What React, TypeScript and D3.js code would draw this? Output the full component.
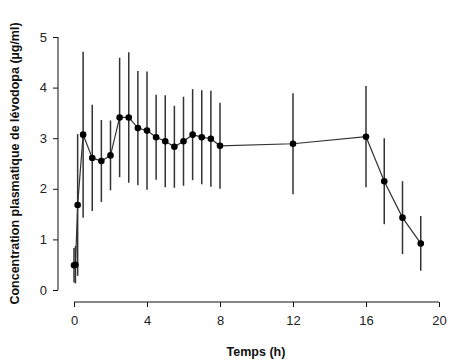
import * as d3 from "d3";
import { useEffect, useRef } from "react";

// temps de prélèvement (h)
const times = [0, 0.08, 0.2, 0.5, 1, 1.5, 2, 2.5, 3, 3.5, 4, 4.5, 5, 5.5, 6, 6.5, 7, 7.5, 8, 12, 16, 17, 18, 19];
// concentration moyenne (µg/ml)
const means = [0.49, 0.5, 1.68, 3.07, 2.61, 2.55, 2.66, 3.41, 3.41, 3.2, 3.15, 3.02, 2.94, 2.83, 2.94, 3.07, 3.02, 2.99, 2.85, 2.89, 3.03, 2.15, 1.43, 0.92];
// écart-type
const sds = [0.34, 0.37, 1.4, 1.64, 1.05, 0.81, 0.69, 1.18, 1.29, 1.13, 1.17, 0.84, 0.91, 0.81, 0.88, 0.9, 0.93, 0.95, 0.85, 1.0, 1.0, 0.85, 0.72, 0.54];

const xTicks = [0, 4, 8, 12, 16, 20];
const yTicks = [0, 1, 2, 3, 4, 5];

const W = 458;
const H = 361;

const App = () => {
  const ref = useRef<SVGSVGElement>(null);

  useEffect(() => {
    const svg = d3.select(ref.current);
    svg.selectAll("*").remove();

    const data = times.map((t, i) => ({ t, m: means[i], sd: sds[i] }));

    const x = d3.scaleLinear().domain([0, 20]).range([74, 439]);
    const y = d3.scaleLinear().domain([0, 5]).range([290, 37]);

    const font = "'Liberation Sans', Arial, sans-serif";

    // axe y
    const yAxis = svg.append("g").attr("transform", "translate(58,0)");
    yAxis.call(d3.axisLeft(y).tickValues(yTicks).tickSize(5).tickPadding(6).tickFormat(d3.format("d")));
    yAxis.select(".domain").attr("d", `M0,${y(0)}V${y(5)}`).attr("stroke", "#111");
    yAxis.selectAll(".tick line").attr("stroke", "#111");
    yAxis.selectAll(".tick text").attr("font-family", font).attr("font-size", 13).attr("fill", "#222");

    // axe x
    const xAxis = svg.append("g").attr("transform", "translate(0,302)");
    xAxis.call(d3.axisBottom(x).tickValues(xTicks).tickSize(5).tickPadding(9).tickFormat(d3.format("d")));
    xAxis.select(".domain").attr("d", `M${x(0)},0H${x(20)}`).attr("stroke", "#111");
    xAxis.selectAll(".tick line").attr("stroke", "#111");
    xAxis.selectAll(".tick text").attr("font-family", font).attr("font-size", 13).attr("fill", "#222");

    // barres d'erreur
    svg.append("g")
      .selectAll("line")
      .data(data)
      .enter()
      .append("line")
      .attr("x1", d => x(d.t))
      .attr("x2", d => x(d.t))
      .attr("y1", d => y(d.m - d.sd))
      .attr("y2", d => y(d.m + d.sd))
      .attr("stroke", "#333")
      .attr("stroke-width", 1.5);

    // courbe
    const line = d3.line<{ t: number; m: number }>()
      .x(d => x(d.t))
      .y(d => y(d.m));
    svg.append("path")
      .datum(data)
      .attr("d", line)
      .attr("fill", "none")
      .attr("stroke", "#333")
      .attr("stroke-width", 1.2);

    // points
    svg.append("g")
      .selectAll("circle")
      .data(data)
      .enter()
      .append("circle")
      .attr("cx", d => x(d.t))
      .attr("cy", d => y(d.m))
      .attr("r", 3.3)
      .attr("fill", "#000");

    // titres des axes
    svg.append("text")
      .attr("transform", `translate(19,${(y(0) + y(5)) / 2}) rotate(-90)`)
      .attr("text-anchor", "middle")
      .attr("font-family", font)
      .attr("font-size", 12.5)
      .attr("font-weight", "bold")
      .attr("fill", "#111")
      .text("Concentration plasmatique de lévodopa (µg/ml)");

    svg.append("text")
      .attr("x", 256)
      .attr("y", 356)
      .attr("text-anchor", "middle")
      .attr("font-family", font)
      .attr("font-size", 12.5)
      .attr("font-weight", "bold")
      .attr("fill", "#111")
      .text("Temps (h)");
  }, []);

  return (
    <svg
      ref={ref}
      width={W}
      height={H}
      style={{ position: "absolute", left: 0, top: 0, background: "#fff" }}
    />
  );
};

export default App;
